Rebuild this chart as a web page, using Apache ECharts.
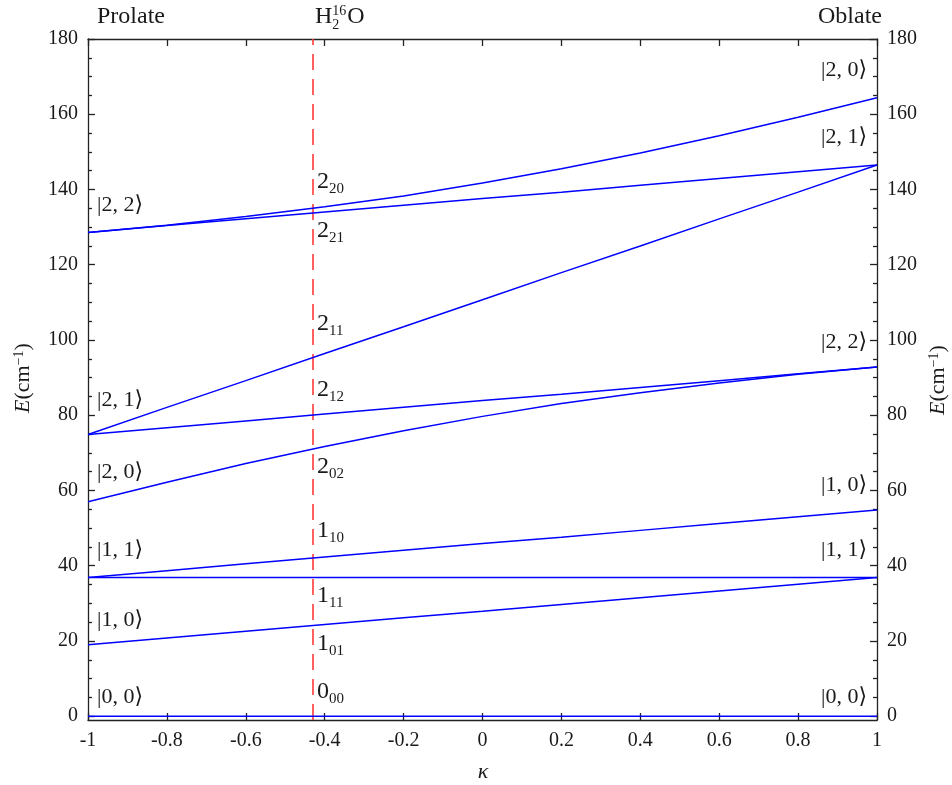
<!DOCTYPE html>
<html>
<head>
<meta charset="utf-8">
<script src="https://cdn.jsdelivr.net/npm/echarts@6/dist/echarts.min.js"></script>
<style>
html,body{margin:0;padding:0;background:#fff;}
#chart{width:952px;height:785px;}
</style>
</head>
<body>
<div id="chart"></div>
<script>
// ---- data ----
const kappa = [-1, -0.8, -0.6, -0.4, -0.2, 0, 0.2, 0.4, 0.6, 0.8, 1];
const E000 = [0, 0, 0, 0, 0, 0, 0, 0, 0, 0, 0];
const E101 = [19.0, 20.8, 22.6, 24.4, 26.2, 27.9, 29.7, 31.5, 33.3, 35.1, 36.9];
const E111 = [36.9, 36.9, 36.9, 36.9, 36.9, 36.9, 36.9, 36.9, 36.9, 36.9, 36.9];
const E110 = [36.9, 38.7, 40.5, 42.3, 44.1, 45.9, 47.6, 49.4, 51.2, 53.0, 54.8];
const E202 = [57.0, 62.2, 67.2, 71.7, 75.9, 79.7, 83.1, 86.0, 88.6, 90.9, 92.8];
const E212 = [74.9, 76.7, 78.5, 80.3, 82.1, 83.9, 85.6, 87.4, 89.2, 91.0, 92.8];
const E211 = [74.9, 82.1, 89.2, 96.4, 103.5, 110.7, 117.9, 125.0, 132.2, 139.3, 146.5];
const E221 = [128.6, 130.4, 132.2, 134.0, 135.8, 137.6, 139.3, 141.1, 142.9, 144.7, 146.5];
const E220 = [128.6, 130.5, 132.8, 135.4, 138.3, 141.7, 145.5, 149.7, 154.3, 159.2, 164.4];
const h2oKappa = -0.43;
const yMajorTicks = [0, 20, 40, 60, 80, 100, 120, 140, 160, 180];
const yMinorTicks = [5, 10, 15, 25, 30, 35, 45, 50, 55, 65, 70, 75, 85, 90, 95, 105, 110, 115, 125, 130, 135, 145, 150, 155, 165, 170, 175];
const leftKets = ['|2, 2\u27E9', '|2, 1\u27E9', '|2, 0\u27E9', '|1, 1\u27E9', '|1, 0\u27E9', '|0, 0\u27E9'];
const rightKets = ['|2, 0\u27E9', '|2, 1\u27E9', '|2, 2\u27E9', '|1, 0\u27E9', '|1, 1\u27E9', '|0, 0\u27E9'];
const levelNames = [['2', '20'], ['2', '21'], ['2', '11'], ['2', '12'], ['2', '02'], ['1', '10'], ['1', '11'], ['1', '01'], ['0', '00']];

// ---- layout ----
const FONT = "'Liberation Serif', 'DejaVu Serif', serif";
const TXT = '#1a1a1a';
const leftKetY = [205, 400, 472, 550, 620, 697];
const rightKetY = [70, 137, 342, 485, 550, 697];
const levelNameY = [182, 231, 324, 390, 467, 531, 596, 644, 692];

const chart = echarts.init(document.getElementById('chart'), null, {renderer: 'canvas'});

function pairs(ys) { return kappa.map((k, i) => [k, ys[i]]); }

const ctx = document.createElement('canvas').getContext('2d');
function tw(text, size, style) {
  ctx.font = (style || '') + ' ' + size + 'px ' + FONT;
  return ctx.measureText(text).width;
}

const lineStyle = {color: '#0000ff', width: 1.5};
const levelSeries = [E000, E101, E111, E110, E202, E212, E211, E221, E220].map((ys, i) => {
  const s = {
    type: 'line', data: pairs(ys), showSymbol: false, symbol: 'none',
    smooth: false,
    lineStyle: lineStyle, xAxisIndex: 0, yAxisIndex: 0, z: 3, silent: true
  };
  if (i === 0) {
    s.markLine = {
      silent: true, symbol: ['none', 'none'], label: {show: false},
      lineStyle: {color: '#ff3a3a', width: 1.6, type: [16, 9]},
      data: [{xAxis: h2oKappa}], z: 2
    };
  }
  return s;
});

const axisLineStyle = {color: '#222', width: 1.3};
const tickLabel = {color: TXT, fontSize: 20, fontFamily: FONT};

function yAxisMajor(pos, showLabel) {
  return {
    type: 'value', position: pos, min: -1, max: 180,
    axisLine: {show: true, onZero: false, lineStyle: axisLineStyle},
    axisTick: {show: true, inside: true, length: 7, customValues: yMajorTicks, lineStyle: axisLineStyle},
    axisLabel: {show: showLabel, customValues: yMajorTicks, margin: 10, ...tickLabel},
    splitLine: {show: false}
  };
}
function yAxisMinor(pos) {
  return {
    type: 'value', position: pos, min: -1, max: 180,
    axisLine: {show: false, onZero: false},
    axisTick: {show: true, inside: true, length: 4, customValues: yMinorTicks, lineStyle: axisLineStyle},
    axisLabel: {show: false},
    splitLine: {show: false}
  };
}

const graphics = [];
function addText(x, y, text, size, align, extra) {
  graphics.push({
    type: 'text', x: x, y: y, silent: true,
    style: Object.assign({text: text, fill: TXT, font: size + 'px ' + FONT, align: align || 'left', verticalAlign: 'middle'}, extra || {})
  });
}
// top titles
addText(97, 17, 'Prolate', 24);
addText(818, 17, 'Oblate', 24);
{
  const x0 = 315, y0 = 17;
  const wH = tw('H', 24);
  addText(x0, y0, 'H', 24);
  addText(x0 + wH, y0 + 8, '2', 14);
  addText(x0 + wH, y0 - 6, '16', 14);
  addText(x0 + wH + tw('16', 14) + 1, y0, 'O', 24);
}
// kets
leftKets.forEach((t, i) => addText(97, leftKetY[i], t, 22));
rightKets.forEach((t, i) => addText(867, rightKetY[i], t, 22, 'right'));
// level names at the H2O line
levelNames.forEach((p, i) => {
  const x = 317, y = levelNameY[i];
  addText(x, y, p[0], 24);
  addText(x + tw(p[0], 24), y + 7, p[1], 15);
});
// axis titles
const yTitleStyle = {
  text: '{i|E}(cm{s|\u22121})',
  rich: {
    i: {fontStyle: 'italic', fontSize: 22, fontFamily: FONT, fill: TXT},
    s: {fontSize: 14, fontFamily: FONT, fill: TXT, verticalAlign: 'top'}
  },
  font: '22px ' + FONT, fill: TXT, align: 'center', verticalAlign: 'middle'
};
graphics.push({type: 'text', x: 23, y: 378, rotation: Math.PI / 2, silent: true, style: Object.assign({}, yTitleStyle)});
graphics.push({type: 'text', x: 938, y: 380, rotation: Math.PI / 2, silent: true, style: Object.assign({}, yTitleStyle)});
addText(483, 772, '\u03BA', 22, 'center', {font: 'italic 22px ' + FONT});

chart.setOption({
  animation: false,
  backgroundColor: '#fff',
  grid: {left: 88, right: 75, top: 39, bottom: 65, containLabel: false},
  xAxis: [
    {
      type: 'value', position: 'bottom', min: -1, max: 1, interval: 0.2,
      axisLine: {show: true, onZero: false, lineStyle: axisLineStyle},
      axisTick: {show: true, inside: true, length: 7, lineStyle: axisLineStyle},
      axisLabel: {show: true, margin: 11, ...tickLabel},
      splitLine: {show: false}
    },
    {
      type: 'value', position: 'top', min: -1, max: 1, interval: 0.2,
      axisLine: {show: true, onZero: false, lineStyle: axisLineStyle},
      axisTick: {show: true, inside: true, length: 7, lineStyle: axisLineStyle},
      axisLabel: {show: false},
      splitLine: {show: false}
    }
  ],
  yAxis: [yAxisMajor('left', true), yAxisMinor('left'), yAxisMajor('right', true), yAxisMinor('right')],
  series: levelSeries,
  graphic: graphics
});
</script>
</body>
</html>
